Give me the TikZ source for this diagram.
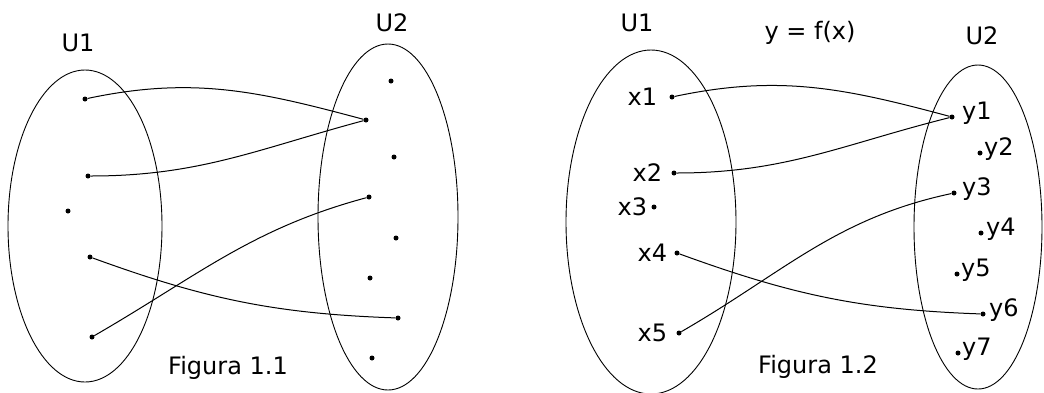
\documentclass[tikz,border=0pt]{standalone}
\usepackage{fontspec}
\setmainfont{DejaVu Sans}
\usetikzlibrary{positioning}

\tikzset{
  pt/.style={circle, fill=black, inner sep=0pt, minimum size=5pt},
  elt/.style={font=\fontsize{24}{27}\selectfont, inner sep=1pt},
  title/.style={font=\fontsize{24}{27}\selectfont, inner sep=1pt},
  set/.style={line width=0.9pt},
  map/.style={line width=1pt},
}

\begin{document}
\begin{tikzpicture}[x=1pt, y=1pt]
  \useasboundingbox (0,0) rectangle (1044,-392);

  % Figura 1.1: the two sets
  \draw[set] (85,-226) ellipse (77pt and 156pt);
  \draw[set] (388,-217) ellipse (70pt and 173pt);
  \node[title] (ua) at (78,-43) {U1};
  \node[title] (ub) at (392,-23) {U2};

  % Points of U1
  \node[pt] (a1) at (85,-99) {};
  \node[pt] (a2) at (88,-176) {};
  \node[pt] (a3) at (68,-211) {};
  \node[pt] (a4) at (90,-257) {};
  \node[pt] (a5) at (92,-337) {};

  % Points of U2
  \node[pt] (b1) at (391,-81) {};
  \node[pt] (b2) at (366,-120) {};
  \node[pt] (b3) at (394,-157) {};
  \node[pt] (b4) at (369,-197) {};
  \node[pt] (b5) at (396,-238) {};
  \node[pt] (b6) at (370,-278) {};
  \node[pt] (b7) at (398,-318) {};
  \node[pt] (b8) at (372,-358) {};

  % Arrows of the relation
  \draw[map] (a1) to[out=12, in=165] (b2);
  \draw[map] (a2) to[out=0, in=195] (b2);
  \draw[map] (a5) to[out=30, in=195] (b4);
  \draw[map] (a4) to[out=-20, in=178] (b7);

  \node[title] (cap1) at (228,-368) {Figura 1.1};

  % Figura 1.2: the two sets
  \draw[set] (651,-222) ellipse (85pt and 172pt);
  \draw[set] (978,-227) ellipse (64pt and 162pt);
  \node[title] (uc) at (637,-23) {U1};
  \node[title] (fx) at (810,-33) {y = f(x)};
  \node[title] (ud) at (982,-36) {U2};

  % Points x of U1
  \node[pt] (x1) at (672,-97) {};
  \node[pt] (x2) at (674,-173) {};
  \node[pt] (x3) at (654,-207) {};
  \node[pt] (x4) at (677,-253) {};
  \node[pt] (x5) at (679,-333) {};
  \node[elt, left=11pt of x1] (lx1) {x1};
  \node[elt, left=8pt of x2] (lx2) {x2};
  \node[elt, left=3pt of x3] (lx3) {x3};
  \node[elt, left=6pt of x4] (lx4) {x4};
  \node[elt, left=8pt of x5] (lx5) {x5};

  % Points y of U2
  \node[pt] (y1) at (952,-117) {};
  \node[pt] (y2) at (980,-153) {};
  \node[pt] (y3) at (954,-193) {};
  \node[pt] (y4) at (981,-233) {};
  \node[pt] (y5) at (957,-274) {};
  \node[pt] (y6) at (983,-314) {};
  \node[pt] (y7) at (958,-353) {};
  \node[elt, anchor=base west] (ly1) at ([xshift=9pt, yshift=-2pt]y1.center) {y1};
  \node[elt, anchor=base west] (ly2) at ([xshift=3pt, yshift=-2pt]y2.center) {y2};
  \node[elt, anchor=base west] (ly3) at ([xshift=7pt, yshift=-2pt]y3.center) {y3};
  \node[elt, anchor=base west] (ly4) at ([xshift=4pt, yshift=-2pt]y4.center) {y4};
  \node[elt, anchor=base west] (ly5) at ([xshift=3pt, yshift=-2pt]y5.center) {y5};
  \node[elt, anchor=base west] (ly6) at ([xshift=5pt, yshift=-2pt]y6.center) {y6};
  \node[elt, anchor=base west] (ly7) at ([xshift=3pt, yshift=-2pt]y7.center) {y7};

  % Arrows of the function
  \draw[map] (x1) to[out=12, in=165] (y1);
  \draw[map] (x2) to[out=0, in=194] (y1);
  \draw[map] (x5) to[out=30, in=192] (y3);
  \draw[map] (x4) to[out=-20, in=178] (y6);

  \node[title] (cap2) at (818,-367) {Figura 1.2};
\end{tikzpicture}
\end{document}
